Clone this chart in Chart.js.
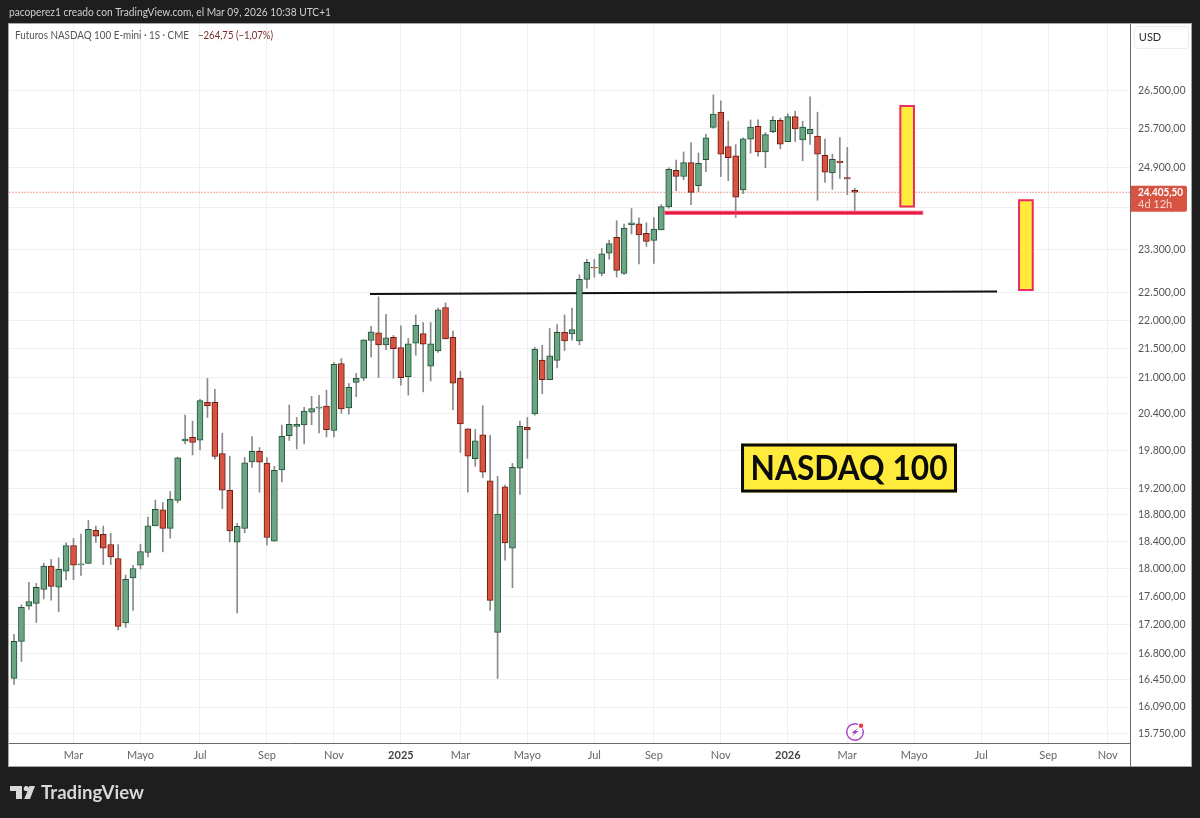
<!DOCTYPE html>
<html lang="es">
<head>
<meta charset="utf-8">
<title>Futuros NASDAQ 100 E-mini</title>
<script src="https://cdn.jsdelivr.net/npm/chart.js@4/dist/chart.umd.min.js"></script>
<style>
html,body{margin:0;padding:0;background:#1e1e1e;}
canvas{display:block;}
</style>
</head>
<body>
<canvas id="c" width="1200" height="818" style="width:1200px;height:818px"></canvas>
<script>
// Weekly candles, one entry per week starting 8 Jan 2024
const opens = [16469,16968,17460,17498,17696,18036,17731,17960,18338,18052,18072,18563,18503,18353,18146,17224,17864,18047,18234,18632,18875,18593,19019,19958,20013,19969,20589,20589,19754,19176,18387,18591,19622,19791,19601,18402,19496,20040,20193,20219,20426,20493,20527,20128,21247,20498,20925,20997,21647,21780,21568,21704,21523,21024,21598,21769,21201,21464,22232,21704,20995,20154,19671,20056,19324,17092,19229,18298,19522,20177,20398,21304,20969,21299,21792,21762,21639,22744,22965,22854,23230,23530,22853,23771,23791,23609,23471,23673,24118,24843,24718,24996,24536,25058,25722,26039,25325,25134,24451,25476,25744,25216,25632,25870,25427,25946,25462,25585,25538,25148,24790,25031,24698,24444];
const highs = [17064,17478,17798,17783,18076,18131,18155,18377,18442,18507,18714,18628,18628,18518,18353,17903,18047,18357,18764,19024,18988,19156,19696,20377,20279,20641,20992,20808,20083,19712,18668,19691,20029,19850,19691,19552,20214,20546,20339,20505,20690,20707,20796,21265,21333,20908,21077,21660,21898,22424,22111,21734,21903,21681,22099,21963,21963,22220,22315,21810,21115,20154,20144,20532,20046,19391,19256,19596,20279,20339,21525,21563,21857,21928,22099,22220,22829,23114,23114,23318,23477,23850,23785,24085,23903,23810,23909,24163,24894,25050,25216,25407,25195,25579,26406,26279,25852,25366,25503,25876,25876,25612,25946,25912,26003,26060,25848,26364,26039,25476,25169,25509,25308,24483];
const lows = [16387,16695,17413,17230,17562,17543,17379,17835,17835,17898,18072,18383,18057,18057,17128,17160,17398,17993,18169,18632,18243,18447,18983,19909,19732,19811,20339,19669,18894,18391,17364,18527,19533,19145,18347,18402,19306,19964,19827,19909,20219,20088,20023,20023,20409,20392,20683,20952,21361,21007,21488,20995,20878,20710,21390,20765,20950,21437,21674,20463,19770,19147,19552,19374,17399,16466,18121,17720,19112,19677,20377,20734,20969,21172,21471,21651,21569,22581,22786,22809,23118,22786,22834,23595,23031,23360,23038,23673,24091,24438,24653,24163,24418,24816,25702,24718,24634,23914,24379,25189,25128,24894,25612,25277,25427,25427,25037,25366,24248,24600,24463,24679,24359,24032];
const closes = [16968,17441,17525,17726,18036,17740,17989,18338,18047,18066,18578,18477,18298,18169,17175,17841,17999,18249,18632,18881,18593,19035,19685,19986,19932,20618,20532,19707,19176,18554,18623,19606,19791,19617,18457,19488,20030,20225,20225,20443,20488,20510,20139,21235,20482,20841,20992,21660,21798,21568,21692,21505,21007,21586,21915,21581,21586,22189,21674,20912,20233,19712,19958,19459,17540,18809,18377,19533,20193,20137,21495,20969,21378,21792,21639,21840,22744,23058,22958,23218,23413,22910,23707,23810,23575,23452,23687,24124,24863,24718,24996,24404,24984,25503,25997,25169,25099,24306,25482,25729,25216,25571,25870,25374,25946,25687,25729,25681,25169,24804,25066,24996,24670.25,24405.5];

// Price axis ticks
const priceTicks = [26500,25700,24900,24100,23300,22500,22000,21500,21000,20400,19800,19200,18800,18400,18000,17600,17200,16800,16450,16090,15750];
const priceTickLabels = ['26.500,00','25.700,00','24.900,00','24.100,00','23.300,00','22.500,00','22.000,00','21.500,00','21.000,00','20.400,00','19.800,00','19.200,00','18.800,00','18.400,00','18.000,00','17.600,00','17.200,00','16.800,00','16.450,00','16.090,00','15.750,00'];

// Time axis ticks, as week numbers counted from the first candle
const timeTicks = [8,17,25,34,43,52,60,69,78,86,95,104,112,121,130,139,147];
const timeTickLabels = ['Mar','Mayo','Jul','Sep','Nov','2025','Mar','Mayo','Jul','Sep','Nov','2026','Mar','Mayo','Jul','Sep','Nov'];

// Chart drawings, given in week numbers and prices
const lastPrice = 24405.5;
const trendWeeks = [47.85,132.12];
const trendPrices = [22476,22522];
const supportBand = {from:87.37,to:122.2,top:24044,bottom:23960};
const targetBoxes = [
  {from:119.0,to:121.1,top:26191,bottom:24106},
  {from:134.95,to:137.06,top:24267,bottom:22531}
];
const titleBox = {from:97.72,to:126.75,top:19915,bottom:19141,text:'NASDAQ 100'};
const iconPos = {week:113.04,price:15769};

const FONT = 'Lato, sans-serif';
const upFill='#6ba583', upEdge='#225437', downFill='#d75442', downEdge='#6b1b0f';

const bodies = opens.map((o,i)=>({x:i,y:[Math.min(o,closes[i]),Math.max(o,closes[i])]}));
const wicks = highs.map((h,i)=>({x:i,y:[lows[i],h]}));
const isUp = i => closes[i] >= opens[i];

const chrome = {
  id:'chrome',
  beforeDraw(chart){
    const c=chart.ctx;
    c.save();
    c.fillStyle='#1e1e1e'; c.fillRect(0,0,1200,818);
    c.fillStyle='#ffffff'; c.fillRect(9,23,1182,744);
    c.strokeStyle='#a5a5a5'; c.lineWidth=1; c.strokeRect(8.5,23.5,1183,743);
    c.restore();
  },
  afterDatasetsDraw(chart){
    const c=chart.ctx, X=v=>chart.scales.x.getPixelForValue(v), Y=v=>chart.scales.y.getPixelForValue(v);
    c.save();
    // support band
    const bx=X(supportBand.from), bw=X(supportBand.to)-bx, by=Y(supportBand.top), bh=Y(supportBand.bottom)-by;
    c.fillStyle='#f4668f'; c.fillRect(bx,by,bw,bh);
    c.fillStyle='#e8193f'; c.fillRect(bx+1,by+1,bw-2,bh-2);
    // target boxes
    targetBoxes.forEach(b=>{
      const x=X(b.from), w=X(b.to)-x, y=Y(b.top), h=Y(b.bottom)-y;
      c.fillStyle='#ffeb3b'; c.fillRect(x,y,w,h);
      c.strokeStyle='#ec2a6c'; c.lineWidth=2; c.strokeRect(x+1,y+1,w-2,h-2);
    });
    // title box
    const tx=X(titleBox.from), tw=X(titleBox.to)-tx, ty=Y(titleBox.top), th=Y(titleBox.bottom)-ty;
    c.fillStyle='#ffeb3b'; c.fillRect(tx,ty,tw,th);
    c.strokeStyle='#0b0b0b'; c.lineWidth=3; c.strokeRect(tx+1.5,ty+1.5,tw-3,th-3);
    c.fillStyle='#0b0b0b'; c.font='bold 35px '+FONT; c.textAlign='center'; c.textBaseline='middle';
    c.fillText(titleBox.text,tx+tw/2,ty+th/2+1,197);
    // flash icon
    const ix=X(iconPos.week), iy=Y(iconPos.price);
    c.strokeStyle='#a83fc4'; c.lineWidth=1.4; c.beginPath(); c.arc(ix,iy,8.3,0,Math.PI*2); c.stroke();
    c.fillStyle='#a83fc4'; c.beginPath();
    c.moveTo(ix+3.5,iy-4.5); c.lineTo(ix-3.5,iy+1); c.lineTo(ix-0.5,iy+1); c.lineTo(ix-3,iy+4.5); c.lineTo(ix+3.5,iy-1); c.lineTo(ix+0.5,iy-1); c.closePath(); c.fill();
    c.fillStyle='#ffffff'; c.beginPath(); c.arc(ix+6,iy-6.3,3.2,0,Math.PI*2); c.fill();
    c.fillStyle='#f23645'; c.beginPath(); c.arc(ix+6,iy-6.3,2.2,0,Math.PI*2); c.fill();
    c.restore();
  },
  afterDraw(chart){
    const c=chart.ctx, pad=chart.scales.y, py=pad.getPixelForValue(lastPrice);
    c.save();
    // y axis rule running down to the frame
    c.fillStyle='#6a6a6a'; c.fillRect(1130,743,1,24);
    // last price tag
    c.fillStyle='#d75442'; c.beginPath(); c.roundRect(1131,py-6.5,56,26,[0,2,2,0]); c.fill();
    c.textBaseline='middle'; c.textAlign='left';
    c.fillStyle='#ffffff'; c.font='bold 11px '+FONT; c.fillText('24.405,50',1138,py,45);
    c.fillStyle='#f6d5cf'; c.font='11px '+FONT; c.fillText('4d 12h',1138,py+12);
    // currency button
    c.strokeStyle='#ececec'; c.lineWidth=1; c.beginPath(); c.roundRect(1134.5,26.5,54,22,3); c.stroke();
    c.fillStyle='#2c2c2c'; c.font='11px '+FONT; c.textAlign='center'; c.fillText('USD',1150,37.5);
    // header and legend
    c.textAlign='left';
    c.fillStyle='#cfcfcf'; c.font='11px '+FONT;
    c.fillText('pacoperez1 creado con TradingView.com, el Mar 09, 2026 10:38 UTC+1',9,12,322);
    c.fillStyle='#555555'; c.font='11px '+FONT;
    c.fillText('Futuros NASDAQ 100 E-mini · 1S · CME',15,35.5,174);
    c.fillStyle='#7a2b2b';
    c.fillText('−264,75 (−1,07%)',198,35.5,75);
    // brand mark and wordmark
    c.fillStyle='#d8d8d8';
    c.fillRect(10,786,12,5); c.fillRect(16,786,6,13);
    c.beginPath(); c.arc(26.3,788.5,2.6,0,Math.PI*2); c.fill();
    c.beginPath(); c.moveTo(29.5,786); c.lineTo(35,786); c.lineTo(30,799); c.lineTo(24.2,799); c.closePath(); c.fill();
    c.font='bold 19px '+FONT; c.fillText('TradingView',41,793,103);
    c.restore();
  }
};

new Chart(document.getElementById('c'),{
  data:{datasets:[
    {type:'bar',label:'cuerpos',data:bodies,order:1,barThickness:6,grouped:false,
      backgroundColor:ctx=>isUp(ctx.dataIndex)?upFill:downFill,
      borderColor:ctx=>isUp(ctx.dataIndex)?upEdge:downEdge,
      borderWidth:1,borderSkipped:false},
    {type:'bar',label:'mechas',data:wicks,order:2,barThickness:1,grouped:false,
      backgroundColor:'#8a8a8c',borderWidth:0},
    {type:'line',label:'tendencia',data:trendWeeks.map((w,i)=>({x:w,y:trendPrices[i]})),order:3,
      borderColor:'#111111',borderWidth:2,pointRadius:0,tension:0},
    {type:'line',label:'último',data:[{x:-1,y:lastPrice},{x:151,y:lastPrice}],order:4,
      borderColor:'#e0402f',borderWidth:1.2,borderDash:[1,2],pointRadius:0,tension:0}
  ]},
  options:{
    responsive:false,animation:false,devicePixelRatio:1,
    layout:{padding:{left:9,top:24,right:8,bottom:51}},
    plugins:{legend:{display:false},tooltip:{enabled:false}},
    scales:{
      x:{type:'linear',min:-0.672,max:150,offset:false,
        afterFit:s=>{s.height=24;},
        afterBuildTicks:s=>{s.ticks=timeTicks.map(v=>({value:v}));},
        grid:{color:'#efefef',lineWidth:1,drawTicks:false,offset:false},
        border:{display:true,color:'#6a6a6a',width:1},
        ticks:{autoSkip:false,maxRotation:0,padding:6,
          color:ctx=>/^20/.test(timeTickLabels[ctx.index])?'#444444':'#666666',
          font:ctx=>({family:FONT,size:11,weight:/^20/.test(timeTickLabels[ctx.index])?'bold':'normal'}),
          callback:(v,i)=>timeTickLabels[i]}},
      y:{type:'logarithmic',position:'right',min:15629,max:27965,
        afterFit:s=>{s.width=62;},
        afterBuildTicks:s=>{s.ticks=priceTicks.map(v=>({value:v}));},
        grid:{color:'#efefef',lineWidth:1,drawTicks:false},
        border:{display:true,color:'#6a6a6a',width:1},
        ticks:{autoSkip:false,padding:8,color:'#555555',font:{family:FONT,size:10.5},
          callback:(v,i)=>priceTickLabels[i]}}
    }
  },
  plugins:[chrome]
});
</script>
</body>
</html>
